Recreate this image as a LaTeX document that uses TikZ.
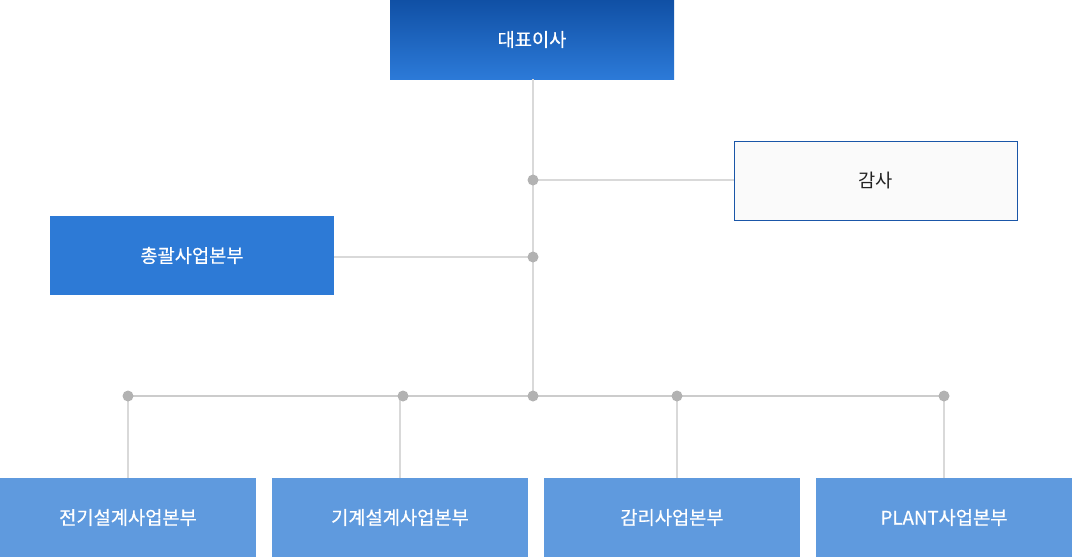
\documentclass[tikz,border=0pt]{standalone}
\usepackage{fontspec}
\setmainfont{Noto Sans CJK KR}
\newfontfamily\medfont[FakeBold=0.6]{Noto Sans CJK KR}
\usetikzlibrary{positioning}
\definecolor{topA}{HTML}{1050A5}
\definecolor{topB}{HTML}{2C7AD8}
\definecolor{midblue}{HTML}{2D7AD6}
\definecolor{lowblue}{HTML}{5F9ADE}
\definecolor{audborder}{HTML}{1A56A8}
\definecolor{audfill}{HTML}{FAFAFA}
\definecolor{linegray}{HTML}{D9D9D9}
\definecolor{dotgray}{HTML}{B2B2B2}
\definecolor{txtdark}{HTML}{222222}
\tikzset{
  box/.style={minimum width=284pt, minimum height=79pt, inner sep=0pt, outer sep=0pt,
    font=\fontsize{18.7}{22}\selectfont, anchor=north west},
  whitetext/.style={text=white, font=\fontsize{18.7}{22}\selectfont\medfont},
  lowbox/.style={box, minimum width=256pt, fill=lowblue, whitetext},
  conn/.style={draw=linegray, line width=2pt},
  dot/.style={circle, fill=dotgray, minimum size=11pt, inner sep=0pt},
}
\begin{document}
\begin{tikzpicture}[x=1pt,y=-1pt]
\useasboundingbox (0,0) rectangle (1072,558);
% nodes
\node[box, top color=topA, bottom color=topB, whitetext] (ceo) at (390,0) {대표이사};
\node[box, minimum width=283pt, fill=audfill, draw=audborder, line width=1pt, text=txtdark] (aud) at (734,141) {감사};
\node[box, fill=midblue, whitetext] (gen) at (50,216) {총괄사업본부};
\node[lowbox] (d1) at (0,478) {전기설계사업본부};
\node[lowbox] (d2) at (272,478) {기계설계사업본부};
\node[lowbox] (d3) at (544,478) {감리사업본부};
\node[lowbox] (d4) at (816,478) {PLANT사업본부};
% junction coordinates
\coordinate (jA) at (533,180);
\coordinate (jG) at (533,257);
\coordinate (jB) at (533,396);
\coordinate (b1) at (128,396);
\coordinate (b2) at (403,396);
\coordinate (b3) at (677,396);
\coordinate (b4) at (944,396);
\coordinate (l2) at (400,396);
% connectors
\draw[conn] (ceo.south -| jA) -- (jB);
\draw[conn] (jA) -- (aud.west |- jA);
\draw[conn] (gen.east |- jG) -- (jG);
\draw[draw=linegray!85!gray, line width=1.6pt] (b1) -- (b4);
\draw[conn] (b1) -- (b1 |- d1.north);
\draw[conn] (l2) -- (l2 |- d2.north);
\draw[conn] (b3) -- (b3 |- d3.north);
\draw[conn] (b4) -- (b4 |- d4.north);
% dots
\foreach \p/\n in {jA/dA, jG/dG, jB/dB, b1/d1p, b2/d2p, b3/d3p, b4/d4p}
  \node[dot] (\n) at (\p) {};
\end{tikzpicture}
\end{document}
